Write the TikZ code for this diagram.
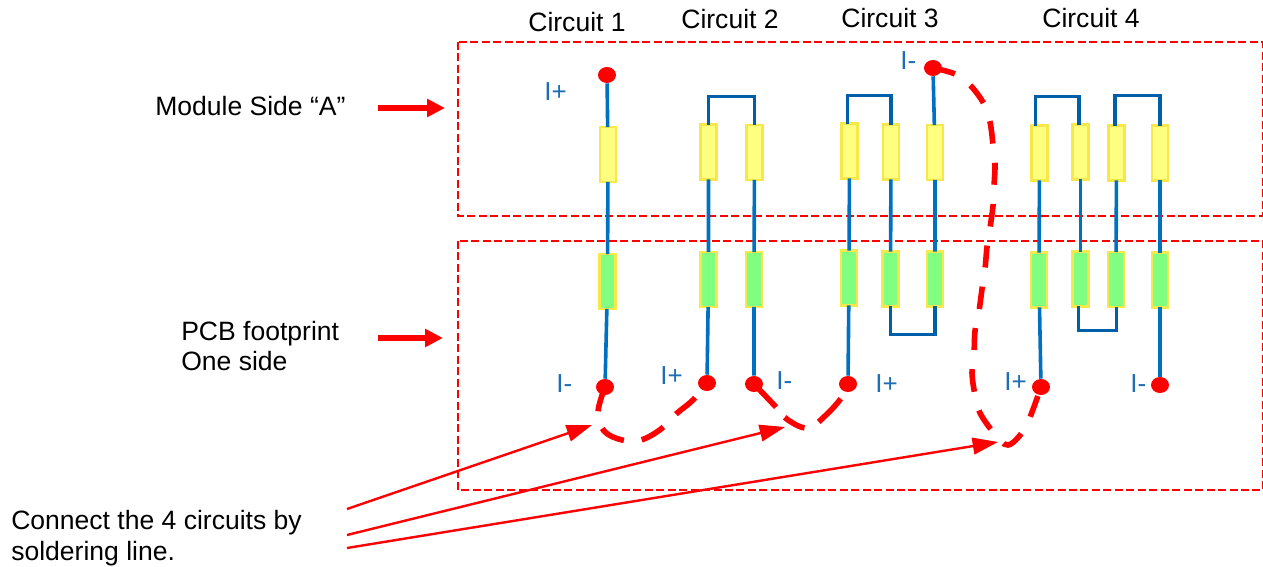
\documentclass[tikz,border=0pt]{standalone}
\usepackage{fontspec}
\setmainfont{Liberation Sans}
\usetikzlibrary{arrows.meta,shapes.geometric}
\definecolor{wire}{HTML}{0070C0}
\definecolor{bus}{HTML}{005FA8}
\definecolor{ylw}{HTML}{FFFF80}
\definecolor{ylwb}{HTML}{F7E84A}
\definecolor{grn}{HTML}{80FF80}
\definecolor{lbl}{HTML}{1F6DB5}
\tikzset{
  x=0.75pt,y=-0.75pt,
  res/.style={draw=ylwb,line width=1.9pt,inner sep=0pt,outer sep=0pt,minimum width=12.2pt,minimum height=41pt},
  ry/.style={res,fill=ylw},
  rg/.style={res,fill=grn},
  pad/.style={ellipse,fill=red,inner sep=0pt,minimum width=13.5pt,minimum height=12pt},
  wr/.style={draw=wire,line width=2.7pt},
  bs/.style={draw=bus,line width=2.7pt,line join=miter},
  zone/.style={draw=red,line width=1.1pt,dash pattern=on 6pt off 2.6pt},
  txt/.style={font=\fontsize{19.9}{24}\selectfont,inner sep=0pt,text=black},
  cur/.style={font=\fontsize{19.5}{23}\selectfont,inner sep=0pt,text=lbl},
  solder/.style={draw=red,line width=4.2pt},
  big/.style={draw=red,line width=4.5pt,-{Triangle[length=13.5pt,width=13pt]}},
  thin/.style={draw=red,line width=1.8pt,-{Triangle[length=19pt,width=12.5pt]}},
}
\begin{document}
\begin{tikzpicture}
\useasboundingbox (0,0) rectangle (1263,567);
% zones
\draw[zone] (458,42) rectangle (1263,216);
\draw[zone] (458,241) rectangle (1263,490);
% resistors
\node[ry] (y1) at (608,154.5) {};
\node[rg] (g1) at (607.5,281.5) {};
\node[ry] (y2a) at (708.5,152) {};
\node[rg] (g2a) at (708.5,279.5) {};
\node[ry] (y2b) at (754.5,152.5) {};
\node[rg] (g2b) at (754,279.5) {};
\node[ry] (y3a) at (849.5,151) {};
\node[rg] (g3a) at (849,278) {};
\node[ry] (y3b) at (891,152) {};
\node[rg] (g3b) at (890.5,279) {};
\node[ry] (y3c) at (935,152.5) {};
\node[rg] (g3c) at (935,279) {};
\node[ry] (y4a) at (1039.5,153) {};
\node[rg] (g4a) at (1039,280) {};
\node[ry] (y4b) at (1080.5,152) {};
\node[rg] (g4b) at (1080.5,279) {};
\node[ry] (y4c) at (1116.5,153) {};
\node[rg] (g4c) at (1116,279.5) {};
\node[ry] (y4d) at (1160,153) {};
\node[rg] (g4d) at (1160,280) {};
% pads
\node[pad] (p1t) at (607,75) {};
\node[pad] (p1b) at (605,387) {};
\node[pad] (p2a) at (707,383) {};
\node[pad] (p2b) at (754,384) {};
\node[pad] (p3a) at (848,384) {};
\node[pad] (p3t) at (933,68) {};
\node[pad] (p4a) at (1041,387) {};
\node[pad] (p4d) at (1160,385) {};
% wires
\draw[wr] (p1t) -- (y1) (y1) -- (g1) (g1) -- (p1b);
\draw[wr] (y2a) -- (g2a) (g2a) -- (p2a);
\draw[wr] (y2b) -- (g2b) (g2b) -- (p2b);
\draw[wr] (y3a) -- (g3a) (g3a) -- (p3a);
\draw[wr] (y3b) -- (g3b);
\draw[wr] (p3t) -- (y3c) (y3c) -- (g3c);
\draw[wr] (y4a) -- (g4a) (g4a) -- (p4a);
\draw[wr] (y4b) -- (g4b);
\draw[wr] (y4c) -- (g4c);
\draw[wr] (y4d) -- (g4d) (g4d) -- (p4d);
% buses
\draw[bs] (y2a.north) -- ++(0,-28) -| (y2b.north);
\draw[bs] (y3a.north) ++(-2,0) -- ++(0,-28) -| (y3b.north);
\draw[bs] (y4a.north) ++(-4,0) -- ++(0,-29) -| ([xshift=-1pt]y4b.north);
\draw[bs] ([xshift=-1pt]y4c.north) -- ++(0,-30) -| (y4d.north);
\draw[bs] (g3b.south) -- ++(0,28) -| (g3c.south);
\draw[bs] (g4b.south) ++(-2,0) -- ++(0,24) -| ([xshift=0.5pt]g4c.south);
% soldering
\draw[solder,dash pattern=on 19pt off 13.5pt] plot[smooth,tension=.6] coordinates {(p1b) (598,412) (604,431) (622,440) (641,440) (661,429) (676,414) (693,400) (p2a)};
\draw[solder,dash pattern=on 24pt off 10pt on 17pt off 12pt] plot[smooth,tension=.6] coordinates {(p2b) (776,407) (788,420) (808,428) (826,415) (842,397) (p3a)};
\draw[solder,dash pattern=on 17pt off 14.5pt on 16.5pt off 14.5pt] plot[smooth,tension=.6] coordinates {(p3t) (955,74) (970,85) (984,104) (990,122) (993,145) (995,164) (994,186) (993,206) (990,228) (987,247) (985,269) (982,289) (979,311) (975,331) (974,354) (972,373) (975,395) (980,413) (994,433) (1008,445) (1024,430) (1032,412) (p4a)};
% arrows
\coordinate (a1s) at (378,108); \coordinate (a1e) at (445,108);
\coordinate (a2s) at (378,338); \coordinate (a2e) at (443,338);
\draw[big] (a1s) -- (a1e);
\draw[big] (a2s) -- (a2e);
\coordinate (s1) at (347,509); \coordinate (e1) at (592,425);
\coordinate (s2) at (347,535); \coordinate (e2) at (785,427);
\coordinate (s3) at (347,548); \coordinate (e3) at (998,442);
\draw[thin] (s1) -- (e1);
\draw[thin] (s2) -- (e2);
\draw[thin] (s3) -- (e3);
% text
\node[txt] (c1) at (577,22) {Circuit 1};
\node[txt] (c2) at (730,19) {Circuit 2};
\node[txt] (c3) at (890,18) {Circuit 3};
\node[txt] (c4) at (1091,18) {Circuit 4};
\node[txt,anchor=west] (m) at (155,106) {Module Side “A”};
\node[txt,anchor=west] (pa) at (181,334) {PCB footprint};
\node[txt,anchor=west] (pb) at (181,361) {One side};
\node[txt,anchor=west] (ca) at (11,523) {Connect the 4 circuits by};
\node[txt,anchor=west] (cb) at (11,554) {soldering line.};
\node[cur,anchor=west] (l1) at (544,92) {I+};
\node[cur,anchor=west] (l2) at (556,384) {I-};
\node[cur,anchor=west] (l3) at (660,376) {I+};
\node[cur,anchor=west] (l4) at (776,381) {I-};
\node[cur,anchor=west] (l5) at (875,384) {I+};
\node[cur,anchor=west] (l6) at (900,61) {I-};
\node[cur,anchor=west] (l7) at (1004,382) {I+};
\node[cur,anchor=west] (l8) at (1130,384) {I-};
\end{tikzpicture}
\end{document}
